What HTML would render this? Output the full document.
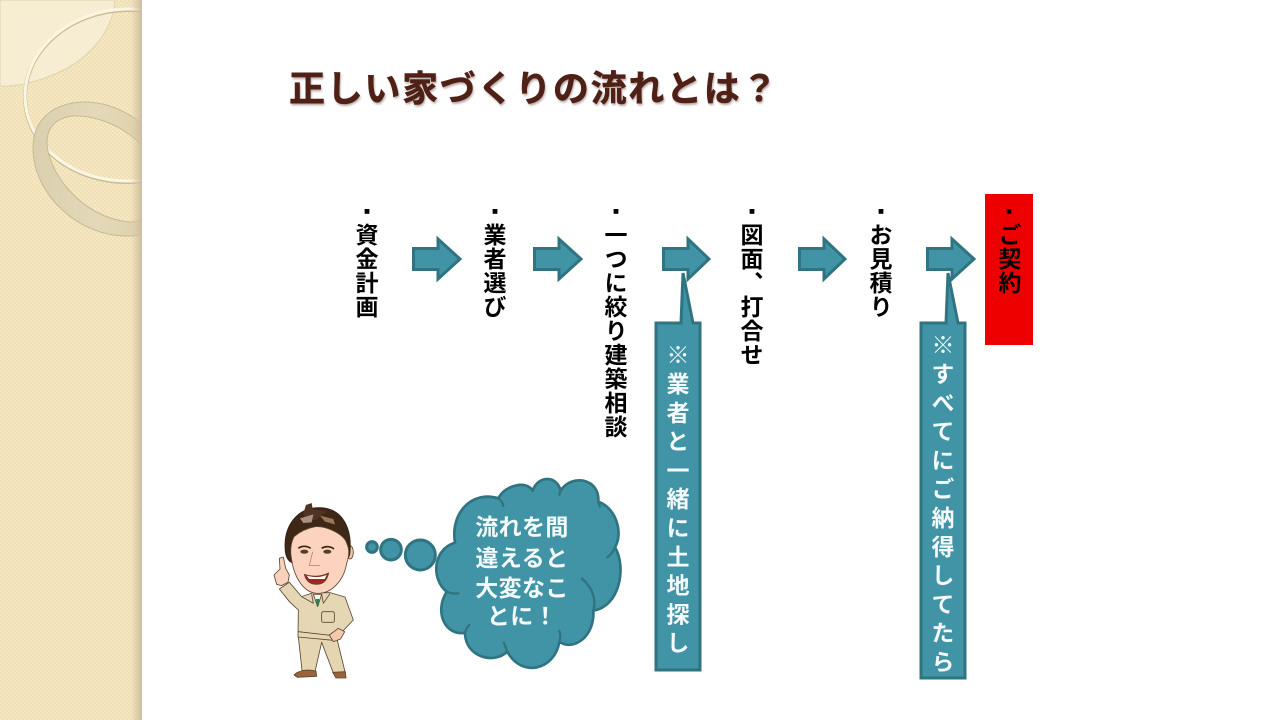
<!DOCTYPE html>
<html lang="ja"><head><meta charset="utf-8"><title>正しい家づくりの流れとは?</title>
<style>
html,body{margin:0;padding:0;background:#fff;width:1280px;height:720px;overflow:hidden}
body{position:relative;font-family:"Liberation Sans","Noto Sans CJK JP",sans-serif}
svg.bg{position:absolute;left:0;top:0}
.v{position:absolute;writing-mode:vertical-rl;text-orientation:upright;white-space:nowrap;font-family:"Noto Sans CJK JP",sans-serif;transform:translateX(-50%)}
.b{font-size:23px;line-height:24px;letter-spacing:1px;color:#000;font-weight:700;top:223px}
.w{font-size:23px;line-height:24px;letter-spacing:5.8px;color:#f4fafb;font-weight:700}
.d{position:absolute;width:10px;margin-left:-5px;text-align:center;top:209px;font:400 6px/6px "Noto Sans CJK JP",sans-serif;color:#000}
.t{position:absolute;left:289px;top:60px;font:700 36px/52px "Noto Sans CJK JP",sans-serif;letter-spacing:1.7px;color:#4f2015;-webkit-text-stroke:.5px #4f2015;text-shadow:1px 2px 2px rgba(90,60,50,.45);white-space:nowrap}
.c{position:absolute;width:120px;left:462px;text-align:center;font:700 23px/29px "Noto Sans CJK JP",sans-serif;color:#f4fafb;white-space:nowrap;letter-spacing:.4px}
</style></head><body>
<svg class="bg" width="1280" height="720" viewBox="0 0 1280 720">
<defs>
<pattern id="p" width="4" height="4" patternUnits="userSpaceOnUse"><rect width="4" height="4" fill="#f6e8c5"/><rect width="2" height="2" fill="#efdfb4"/><rect x="2" y="2" width="2" height="2" fill="#efdfb4"/></pattern>
<linearGradient id="e" x1="0" x2="1"><stop offset="0" stop-color="#d8c9a4" stop-opacity="0"/><stop offset="1" stop-color="#cdbd98"/></linearGradient>
<linearGradient id="r" x1="0" x2="1"><stop offset="0" stop-color="#d9cfae"/><stop offset=".45" stop-color="#e3d9ba"/><stop offset="1" stop-color="#dccc9e"/></linearGradient>
<clipPath id="cp"><rect width="142" height="720"/></clipPath>
</defs>
<g clip-path="url(#cp)">
<rect width="142" height="720" fill="url(#p)"/>
<path d="M0 0H115C113 32 88 62 50 76C30 84 12 87 0 86Z" fill="#f8f0da" fill-opacity=".75" stroke="#e0d2ab" stroke-width="1"/>
<ellipse cx="128" cy="96" rx="103" ry="86" fill="none" stroke="#c9bd97" stroke-width="4" transform="rotate(-2 128 96)"/>
<ellipse cx="128" cy="95" rx="103" ry="86" fill="none" stroke="#fbf6e2" stroke-width="3" transform="rotate(-2 128 95)"/>
<path fill-rule="evenodd" d="M33 148C33 116 58 101 88 102C122 104 150 125 170 155C182 190 170 236 130 236C80 238 33 195 33 148ZM47 142C47 170 80 218 130 222C165 220 160 175 142 146C120 122 90 115 72 116C56 118 47 128 47 142Z" fill="url(#r)" stroke="#c6b78f" stroke-width="1" opacity=".95"/>
<rect x="130" width="12" height="720" fill="url(#e)"/>
</g>

<g fill="#4094a6" stroke="#2f7480" stroke-width="3" stroke-linejoin="miter">
<path d="M413.500 248.500H438V239L460 259L438 279V269.500H413.500Z"/>
<path d="M534.500 248.500H559V239L581 259L559 279V269.500H534.500Z"/>
<path d="M663.500 248.500H688V239L709 259L688 279V269.500H663.500Z"/>
<path d="M799.500 248.500H824V239L845 259L824 279V269.500H799.500Z"/>
<path d="M927.500 248.500H952V239L974 259L952 279V269.500H927.500Z"/>
<path d="M656 323H681L683 273L693 323H700V670H656Z"/>
<path d="M921 323H946L948 273L958 323H965V678H921Z"/>
</g>
<rect x="985" y="194" width="48" height="151" fill="#ee0000"/>

<!-- bubbles -->
<g transform="translate(260 470) scale(.3333)" fill="#4094a6" stroke="#2f7480" stroke-width="9">
<circle cx="336" cy="231" r="16"/><circle cx="393" cy="239" r="31"/><circle cx="481" cy="255" r="45"/>
</g>
<!-- thought cloud -->
<g transform="translate(430 470) scale(.3333)" fill="#4094a6" stroke="#2f7480" stroke-width="8" stroke-linejoin="round" stroke-linecap="round">
<path d="M75 218C60 130 125 60 205 85C225 45 290 30 308 62C325 15 380 15 392 62C425 10 510 25 505 95C560 115 580 190 555 232C590 290 570 410 490 422C495 500 430 545 388 515C375 600 275 625 232 545C190 585 105 560 105 488C50 500 10 430 50 365C5 330 5 240 75 218Z"/>
<g fill="none" stroke-width="7"><path d="M205 85C213 90 218 98 220 108"/><path d="M392 62L388 74"/><path d="M505 95L510 110"/><path d="M555 232C550 245 542 255 532 262"/><path d="M490 422C500 385 485 350 455 325"/><path d="M388 515C392 505 392 495 388 483"/><path d="M232 545C228 535 225 528 222 518"/><path d="M105 488C108 478 112 470 118 465"/><path d="M50 365C62 370 72 372 85 370"/></g>
</g>

<!-- man -->
<g transform="translate(270 495) scale(.3333)" stroke="#5b4630" stroke-width="2.500" stroke-linejoin="round">
<path d="M85 425L200 428L226 534L190 534L155 442L135 530L96 526Z" fill="#e5d6b2"/>
<path d="M72 540C85 526 110 522 138 528L140 544L82 547Z" fill="#9c6238"/>
<path d="M188 532L226 530L228 549H198Z" fill="#9c6238"/>
<path d="M95 305L130 293L180 293L225 306L250 375L215 412L190 436L84 426L85 345L60 322L28 282L58 262Z" fill="#e5d7b4"/>
<path d="M85 410L190 422" fill="none"/>
<path d="M178 420L205 400L224 410L212 432L190 440Z" fill="#f4c8ac"/>
<rect x="155" y="350" width="38" height="32" rx="5" fill="#e5d7b4"/>
<path d="M130 298L143 335L155 298Z" fill="#fbf9ef"/><path d="M138 312H148L146 333H140Z" fill="#2c7a50" stroke="none"/>
<path d="M95 305L130 325L125 298M180 296L160 325L155 298" fill="#e5d7b4"/>
<path d="M20 268L12 240L30 222L28 190L40 186L47 220L58 240L54 262L34 272Z" fill="#f8d2bb"/>
<ellipse cx="240" cy="172" rx="10" ry="20" fill="#f5c4aa"/>
<path d="M46 170C38 90 85 36 150 38C215 40 246 95 240 170C240 190 225 200 215 205L70 205C55 200 48 185 46 170Z" fill="#3f2717" stroke="#2f1c10"/>
<path d="M100 55L108 30L125 24L128 42L170 50L135 75L105 72Z" fill="#4f3423" stroke="none"/>
<path d="M150 62L190 72L195 88L165 80Z" fill="#9c7658" stroke="none"/>
<path d="M90 70L130 58L125 82L100 84Z" fill="#a89180" stroke="none"/>
<path d="M72 125C95 105 120 98 135 95C165 92 210 112 226 135C238 160 240 175 230 205C222 255 185 298 140 295C100 293 72 245 65 195C60 170 62 145 72 125Z" fill="#fbd3bf"/>
<path d="M85 160C95 152 110 152 122 160M155 160C168 152 182 154 192 162" fill="none" stroke="#3a2415" stroke-width="5"/>
<ellipse cx="103" cy="170" rx="11" ry="5" fill="#5a3a25"/><ellipse cx="172" cy="170" rx="11" ry="5" fill="#5a3a25"/>
<path d="M128 170L118 212H150" fill="none" stroke="#a9725a" stroke-width="2"/>
<path d="M103 238C125 246 150 246 176 234C170 262 155 268 138 268C120 268 108 258 103 238Z" fill="#a32520"/>
<path d="M110 242C130 248 150 248 170 240L164 252H118Z" fill="#fff" stroke="none"/>
</g>
</svg>

<div class="t">正しい家づくりの流れとは？</div>
<div class="d" style="left:367px">■</div><div class="v b" style="left:367px">資金計画</div>
<div class="d" style="left:495px">■</div><div class="v b" style="left:495px">業者選び</div>
<div class="d" style="left:616px">■</div><div class="v b" style="left:616px">一つに絞り建築相談</div>
<div class="d" style="left:752px">■</div><div class="v b" style="left:752px">図面、打合せ</div>
<div class="d" style="left:881px">■</div><div class="v b" style="left:881px">お見積り</div>
<div class="d" style="left:1009px">■</div><div class="v b" style="left:1010px">ご契約</div>
<div class="v w" style="left:678px;top:343px">※業者と一緒に土地探し</div>
<div class="v w" style="left:943px;top:333px">※すべてにご納得してたら</div>
<div class="c" style="top:511px">流れを間</div>
<div class="c" style="top:542px">違えると</div>
<div class="c" style="top:572px">大変なこ</div>
<div class="c" style="top:600px">とに！</div>
</body></html>
